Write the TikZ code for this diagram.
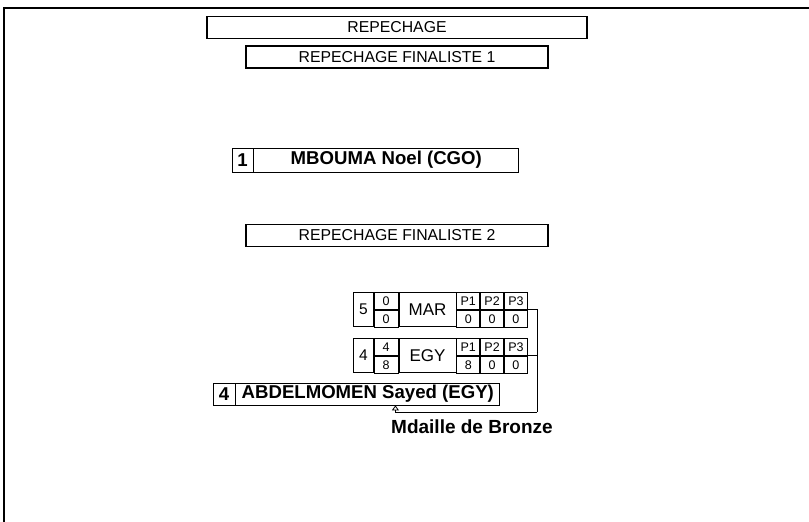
\documentclass[tikz,border=0pt]{standalone}
\usepackage{fontspec}
\setmainfont{Liberation Sans}
\usetikzlibrary{arrows.meta,positioning}
\tikzset{
  titlebox/.style={draw,line width=1.6pt,inner sep=0pt,minimum height=22pt,
    font=\fontsize{15.8}{17}\selectfont},
  seedbox/.style={draw,line width=0.8pt,inner sep=0pt,minimum height=24pt,
    minimum width=21pt,font=\bfseries\fontsize{18.6}{20}\selectfont},
  namebox/.style={seedbox,minimum width=265pt},
  cell/.style={draw,line width=0.8pt,inner sep=0pt,minimum height=17pt,
    font=\fontsize{12.5}{13}\selectfont},
  bigcell/.style={cell,minimum height=34pt,font=\fontsize{17}{18}\selectfont},
  link/.style={line width=0.8pt},
}
\begin{document}
\begin{tikzpicture}[x=1pt,y=-1pt]
  \useasboundingbox (0,0) rectangle (809,522);
  % page frame
  \coordinate (TL) at (4,8);
  \draw[line width=1.3pt] (4,522) -- (TL) -- (809,8);
  % headings
  \node[titlebox,minimum width=380pt] (rep) at (397,27.5) {REPECHAGE};
  \node[titlebox,minimum width=302pt] (fin1) at (397,57) {REPECHAGE FINALISTE 1};
  \node[titlebox,minimum width=302pt] (fin2) at (397,235.5) {REPECHAGE FINALISTE 2};
  % finaliste 1
  \node[seedbox] (s1) at (242.5,160) {1};
  \node[namebox,right=0pt of s1] (n1) {MBOUMA Noel (CGO)};
  % bouts
  \foreach \bt/\yy/\sd/\sa/\sb/\nm/\pa/\pb/\pc in
      {m/292/5/0/0/MAR/0/0/0,e/338/4/4/8/EGY/8/0/0}{
    \node[bigcell,minimum width=20pt,anchor=north west,
      font=\fontsize{15.5}{16}\selectfont] (\bt-seed) at (353,\yy) {\sd};
    \node[cell,minimum width=24pt,anchor=north west] (\bt-sa) at (\bt-seed.north east) {\sa};
    \node[cell,minimum width=24pt,below=0pt of \bt-sa] (\bt-sb) {\sb};
    \node[bigcell,minimum width=57pt,anchor=north west] (\bt-name) at (\bt-sa.north east) {\nm};
    \node[cell,minimum width=23pt,anchor=north west] (\bt-p1) at (\bt-name.north east) {P1};
    \node[cell,minimum width=23pt,right=0pt of \bt-p1] (\bt-p2) {P2};
    \node[cell,minimum width=23pt,right=0pt of \bt-p2] (\bt-p3) {P3};
    \node[cell,minimum width=23pt,below=0pt of \bt-p1] (\bt-v1) {\pa};
    \node[cell,minimum width=23pt,below=0pt of \bt-p2] (\bt-v2) {\pb};
    \node[cell,minimum width=23pt,below=0pt of \bt-p3] (\bt-v3) {\pc};
  }
  % finaliste 2
  \node[seedbox,minimum height=22pt,minimum width=22pt] (s4) at (224,394) {4};
  \node[namebox,minimum height=22pt,minimum width=264pt,right=0pt of s4] (n4)
    {ABDELMOMEN Sayed (EGY)};
  \coordinate (tip) at ([xshift=160pt]n4.south west);
  \coordinate (drop) at (537,412);
  \draw[link] (m-p3.south east) -| (drop);
  \draw[link] (e-p3.south east) -- (e-p3.south east -| drop);
  \draw[link,-{Triangle[open,length=5pt,width=7pt]}] (drop) -| (tip);
  \node[anchor=base west,inner sep=0pt,font=\bfseries\fontsize{19}{21}\selectfont]
    (medal) at (391,433) {Mdaille de Bronze};
\end{tikzpicture}
\end{document}
